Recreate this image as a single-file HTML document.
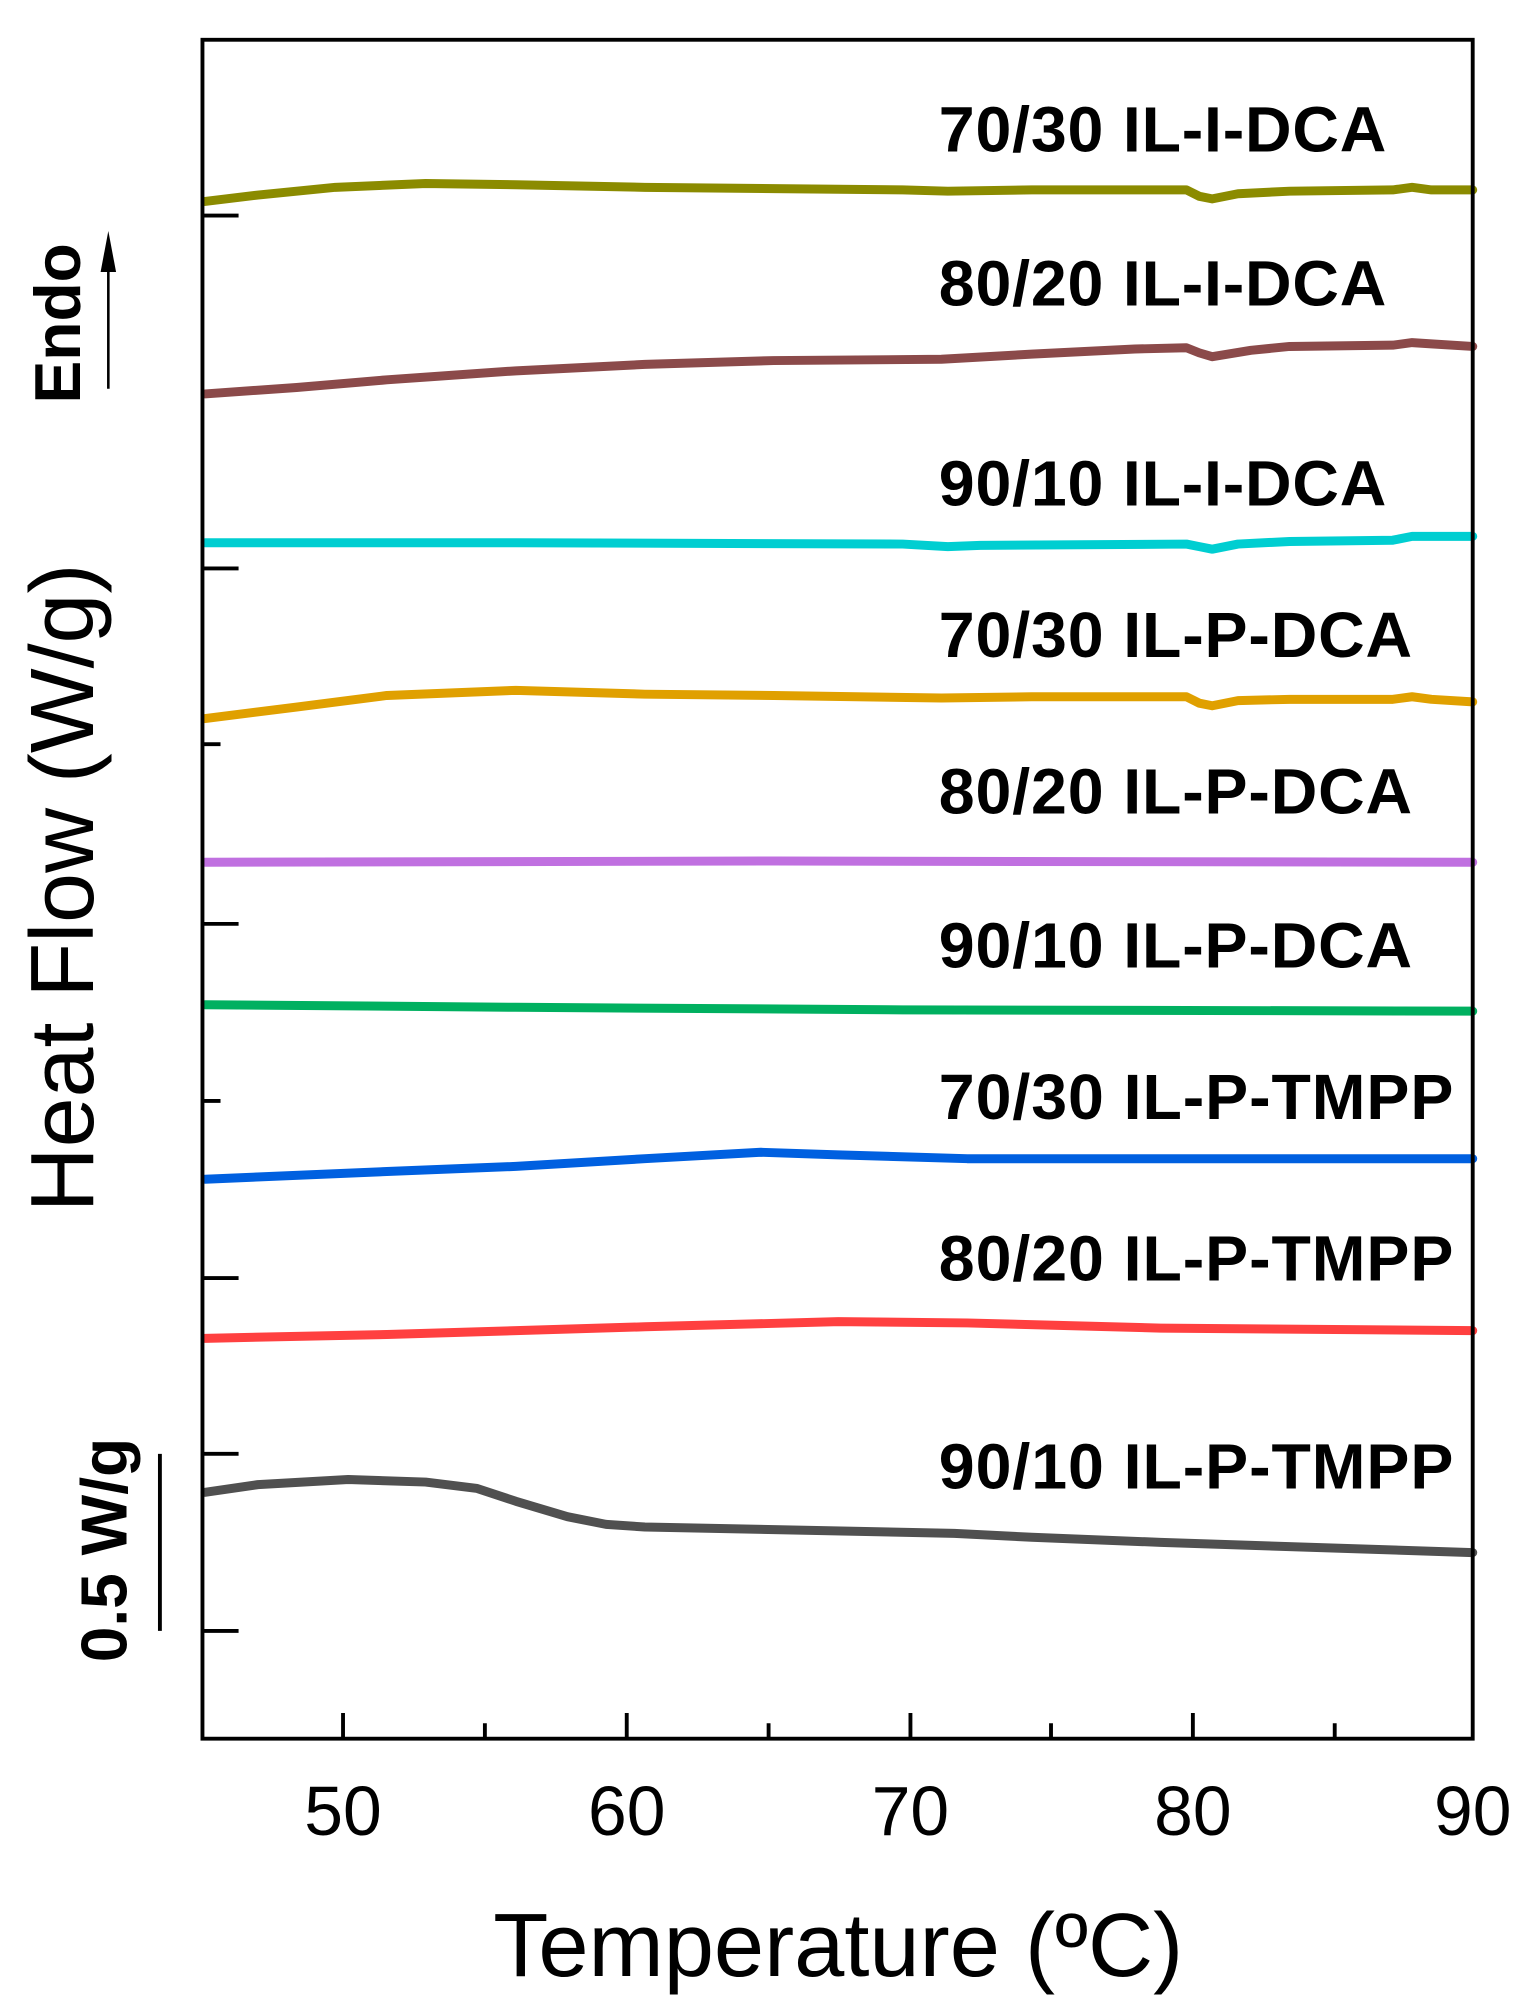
<!DOCTYPE html>
<html><head><meta charset="utf-8"><style>html,body{margin:0;padding:0;background:#fff}svg{display:block}</style></head>
<body>
<svg width="1523" height="2012" viewBox="0 0 1181 1568" preserveAspectRatio="none" xmlns="http://www.w3.org/2000/svg" font-family="Liberation Sans, sans-serif">
<rect width="1181" height="1568" fill="#fff"/>
<g fill="none" stroke-width="7" stroke-linejoin="round" stroke-linecap="round">
<path stroke="#8B8B00" d="M159,157 L200,152 L260,146 L330,143 L400,144 L500,146 L600,147 L700,148 L735,149 L800,148 L920,148 L930,153 L940,155 L960,151 L1000,149 L1080,148 L1095,146 L1110,148 L1142,148"/>
<path stroke="#8B4A4A" d="M159,307 L230,302 L300,296 L400,289 L500,284 L600,281 L730,280 L800,276 L880,272 L920,271 L930,275 L940,278 L970,273 L1000,270 L1080,269 L1095,267 L1110,268 L1142,270"/>
<path stroke="#00CED1" d="M159,423 L400,423 L700,424 L735,426 L760,425 L920,424 L930,426 L940,428 L960,424 L1000,422 L1080,421 L1095,418 L1142,418"/>
<path stroke="#E0A000" d="M159,560 L230,551 L300,542 L400,538 L500,541 L600,542 L730,544 L800,543 L920,543 L930,548 L940,550 L960,546 L1000,545 L1080,545 L1095,543 L1110,545 L1142,547"/>
<path stroke="#C070E0" d="M159,672 L600,671 L1142,672"/>
<path stroke="#00B060" d="M159,783 L400,785 L700,787 L1142,788"/>
<path stroke="#0060E0" d="M159,919 L300,913 L400,909 L500,903 L590,898 L650,900 L750,903 L1142,903"/>
<path stroke="#FF4040" d="M159,1043 L300,1040 L500,1034 L650,1030 L750,1031 L900,1035 L1142,1037"/>
<path stroke="#505050" d="M159,1163 L200,1157 L270,1153 L330,1155 L370,1160 L400,1170 L440,1182 L470,1188 L500,1190 L740,1195 L800,1198 L900,1202 L1142,1210"/>
</g>
<g stroke="#000" stroke-width="3" fill="none">
<rect x="157" y="31" width="985" height="1324"/>
<path d="M266,1355v-20M376,1355v-12M486,1355v-20M596,1355v-12M706,1355v-20M815,1355v-12M925,1355v-20M1035,1355v-12M157,168h28M157,443h28M157,580h14M157,720h28M157,858h14M157,996h28M157,1133h28M157,1271h28"/>
<path d="M124,1133v138"/>
<path d="M84,303v-110" stroke-width="2"/>
</g>
<path d="M78,212 L84,180 L90,212 Z" fill="#000"/>
<g font-size="54" text-anchor="middle">
<text x="266" y="1430">50</text><text x="486" y="1430">60</text><text x="706" y="1430">70</text><text x="925" y="1430">80</text><text x="1142" y="1430">90</text>
</g>
<text x="650" y="1540" font-size="70" text-anchor="middle">Temperature (ºC)</text>
<text transform="translate(72,692) rotate(-90)" font-size="70" text-anchor="middle">Heat Flow (W/g)</text>
<text transform="translate(62,252) rotate(-90)" font-size="50" font-weight="bold" text-anchor="middle">Endo</text>
<text transform="translate(98,1208) rotate(-90)" font-size="50" font-weight="bold" text-anchor="middle">0.5 W/g</text>
<g font-size="50" font-weight="bold">
<text x="728" y="118" textLength="347">70/30 IL-I-DCA</text>
<text x="728" y="238" textLength="347">80/20 IL-I-DCA</text>
<text x="728" y="394" textLength="347">90/10 IL-I-DCA</text>
<text x="728" y="512" textLength="367">70/30 IL-P-DCA</text>
<text x="728" y="634" textLength="367">80/20 IL-P-DCA</text>
<text x="728" y="754" textLength="367">90/10 IL-P-DCA</text>
<text x="728" y="872" textLength="399">70/30 IL-P-TMPP</text>
<text x="728" y="998" textLength="399">80/20 IL-P-TMPP</text>
<text x="728" y="1160" textLength="399">90/10 IL-P-TMPP</text>
</g>
</svg>
</body></html>
